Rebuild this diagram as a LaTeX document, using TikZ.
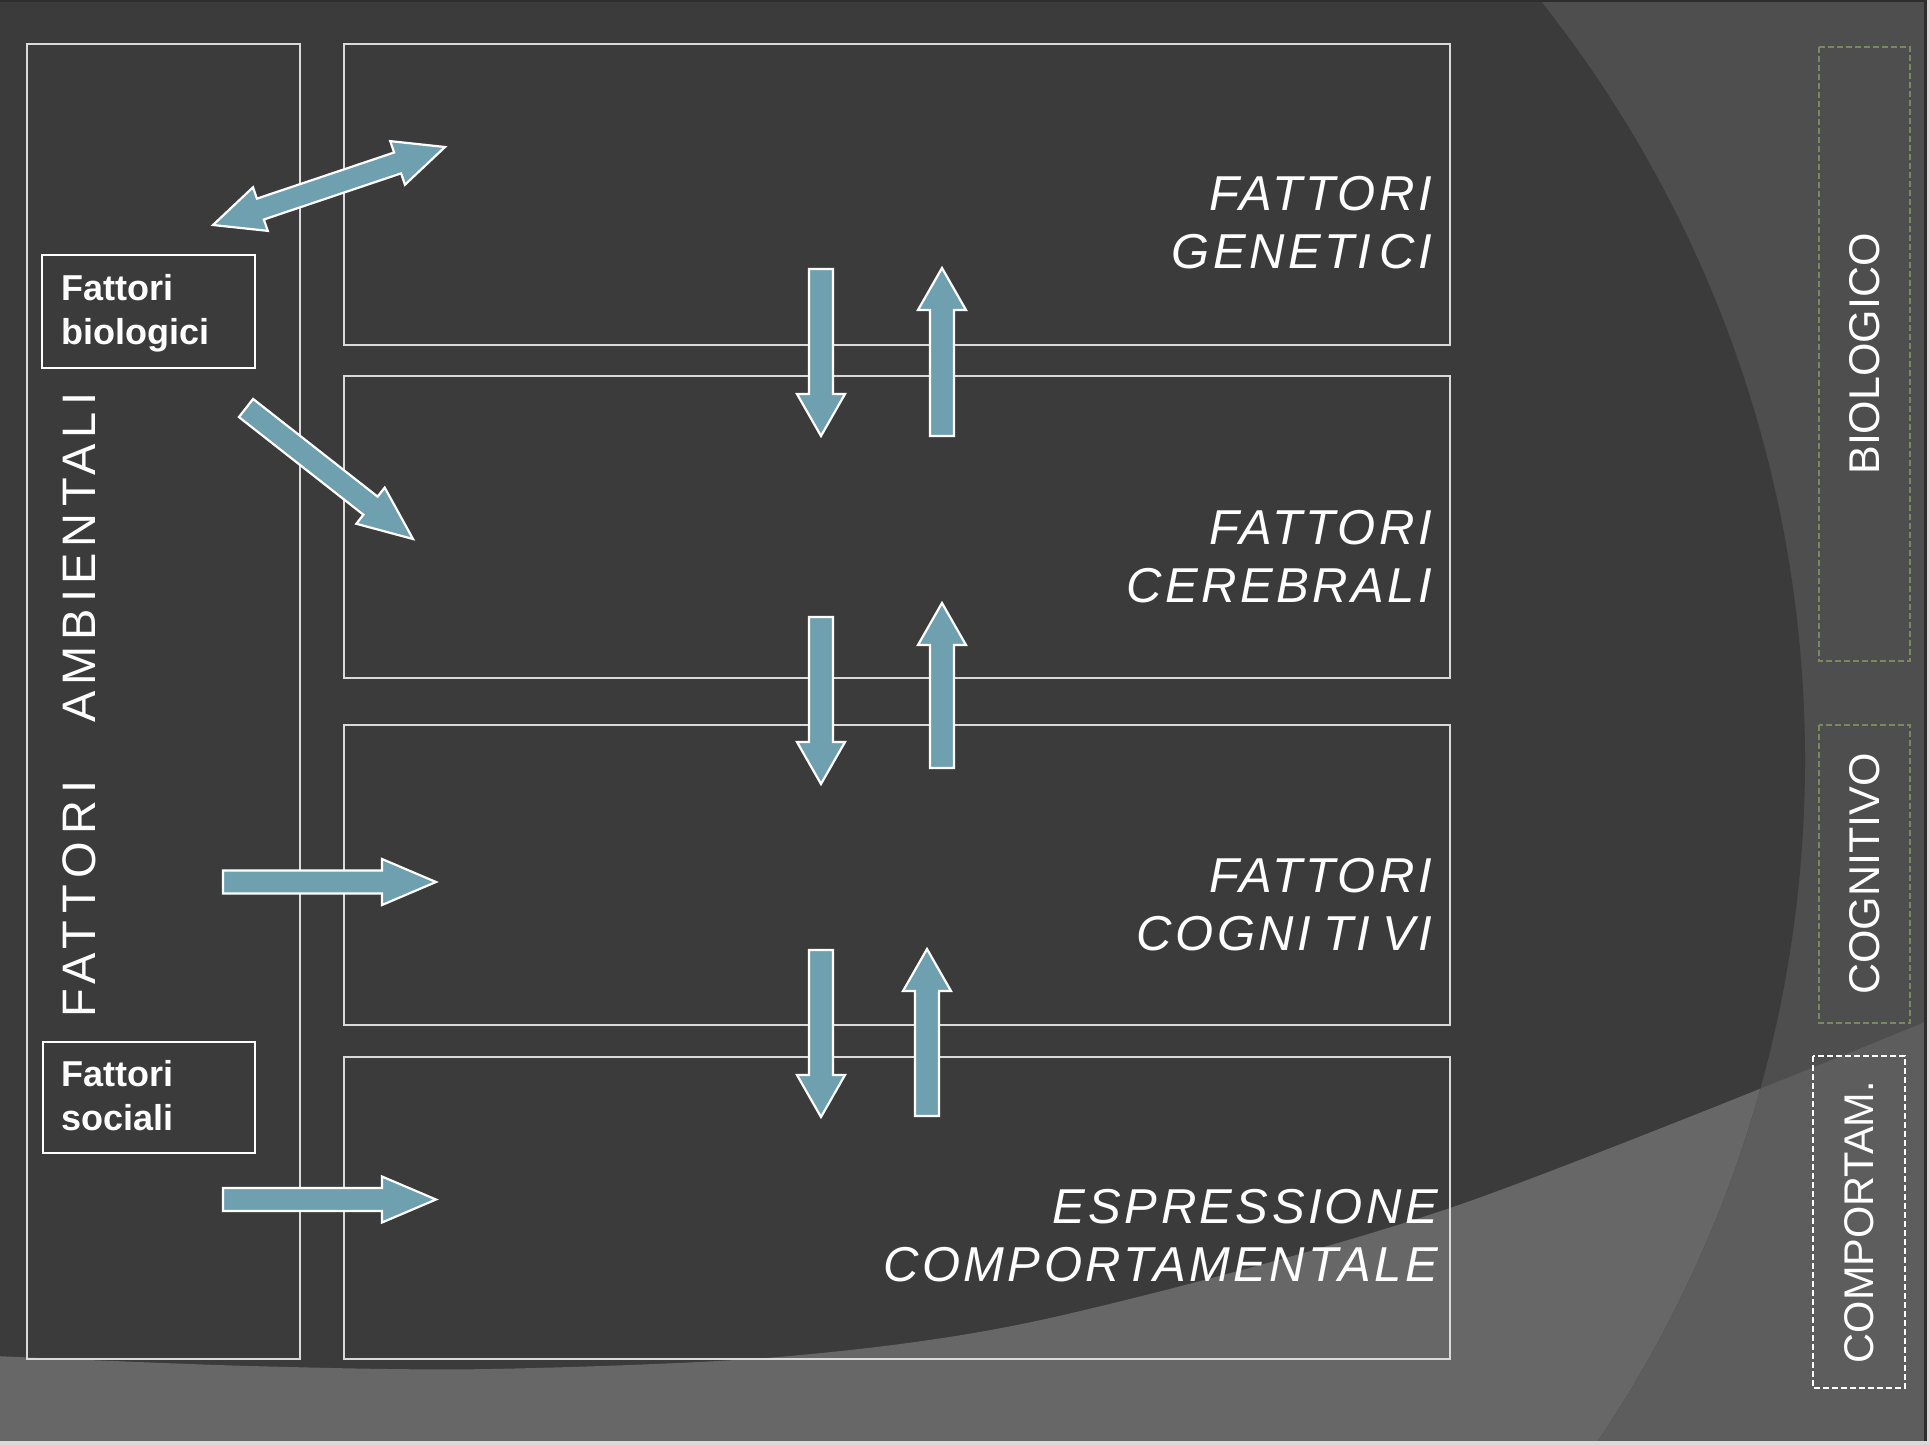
\documentclass[tikz,border=0pt]{standalone}
\usepackage{fontspec}
\setmainfont{Liberation Sans}
\newfontfamily\labfont[LetterSpace=7]{Liberation Sans}
\newfontfamily\ambfont{Liberation Sans}
\usetikzlibrary{calc}

\definecolor{bgout}{HTML}{4E4E4E}
\definecolor{bgdark}{HTML}{3B3B3B}
\definecolor{bandin}{HTML}{676767}
\definecolor{bandout}{HTML}{5D5D5D}
\definecolor{arrowfill}{HTML}{6EA0B0}
\definecolor{boxline}{HTML}{DADADA}
\definecolor{dashgreen}{HTML}{7A8A5E}

\newcommand{\gapI}[1][8pt]{I\kern#1}

\tikzset{
  box/.style={draw=boxline, line width=2pt, anchor=north west, inner sep=0pt},
  smallbox/.style={draw=white, line width=2.2pt, anchor=north west, inner sep=0pt},
  blockarr/.style={fill=arrowfill, draw=white, line width=2.2pt, line join=miter},
  rlabel/.style={text=white, anchor=north east, align=right, inner sep=0pt,
    font=\labfont\itshape\fontsize{49}{58.5}\selectfont},
  blabel/.style={text=white, anchor=north west, align=left, inner sep=0pt,
    font=\bfseries\fontsize{36}{44}\selectfont},
  sidebox/.style={draw=dashgreen, line width=2pt, dash pattern=on 6pt off 3pt,
    rotate=90, text=white, inner sep=0pt, font=\fontsize{43}{50}\selectfont},
}

% single block arrow: from, to, shaft half width, head half width, head length
\newcommand{\blockarrow}[5]{%
  \coordinate (hb) at ($(#2)!#5!(#1)$);
  \filldraw[blockarr] ($(#1)!#3!90:(#2)$) -- ($(hb)!#3!90:(#2)$) -- ($(hb)!#4!90:(#2)$)
    -- (#2) -- ($(hb)!#4!-90:(#2)$) -- ($(hb)!#3!-90:(#2)$) -- ($(#1)!#3!-90:(#2)$) -- cycle;}
% double block arrow
\newcommand{\dblarrow}[5]{%
  \coordinate (ha) at ($(#1)!#5!(#2)$);
  \coordinate (hb) at ($(#2)!#5!(#1)$);
  \filldraw[blockarr] (#1) -- ($(ha)!#4!90:(#2)$) -- ($(ha)!#3!90:(#2)$) -- ($(hb)!#3!90:(#2)$)
    -- ($(hb)!#4!90:(#2)$) -- (#2) -- ($(hb)!#4!-90:(#2)$) -- ($(hb)!#3!-90:(#2)$)
    -- ($(ha)!#3!-90:(#2)$) -- ($(ha)!#4!-90:(#2)$) -- cycle;}

\newcommand{\bandpath}{plot[smooth] coordinates {(-5,1356) (250,1366) (490,1369) (790,1356) (1050,1318) (1450,1208) (1935,1018)} -- (1935,1450) -- (-5,1450) -- cycle}

\begin{document}
\begin{tikzpicture}[x=1pt, y=-1pt]
\useasboundingbox (0,0) rectangle (1930,1445);
% background
\fill[bgout] (0,0) rectangle (1930,1445);
\fill[bandout] \bandpath;
\fill[bgdark] (583,760) circle (1222);
\begin{scope}
  \clip (583,760) circle (1222);
  \fill[bandin] \bandpath;
\end{scope}
\fill[black!82] (0,0) rectangle (1930,2);
\fill[black!82] (1924,0) rectangle (1927,1445);
\fill[black!15] (1927,0) rectangle (1930,1445);
\fill[black!15] (0,1441) rectangle (1930,1445);

% main boxes
\node[box, minimum width=273pt, minimum height=1315pt] (amb) at (26,43) {};
\node[box, minimum width=1106pt, minimum height=301pt] (gen) at (343,43) {};
\node[box, minimum width=1106pt, minimum height=302pt] (cer) at (343,375) {};
\node[box, minimum width=1106pt, minimum height=300pt] (cog) at (343,724) {};
\node[box, minimum width=1106pt, minimum height=302pt] (esp) at (343,1056) {};

% small boxes
\node[smallbox, minimum width=213pt, minimum height=113pt] (bio) at (41,254) {};
\node[smallbox, minimum width=212pt, minimum height=111pt] (soc) at (42,1041) {};
\node[blabel] (biot) at (61,274) {Fattori\\biologici};
\node[blabel] (soct) at (61,1060) {Fattori\\sociali};

% left vertical label
\node[text=white, rotate=90, inner sep=0pt, font=\ambfont\fontsize{47}{50}\selectfont]
  (ambt) at (79,705) {{\addfontfeatures{LetterSpace=15}FATTORI}\hspace{58pt}{\addfontfeatures{LetterSpace=13}AMB\gapI[5pt]ENTALI}};

% right labels
\node[rlabel] (gent) at (1432,176) {FATTORI\\GENET\gapI CI};
\node[rlabel] (cert) at (1432,510) {FATTORI\\CEREBRALI};
\node[rlabel] (cogt) at (1432,858) {FATTORI\\COGN\gapI[12pt]T\gapI[12pt]VI};
\node[rlabel] (espt) at (1438,1189) {ESPRESS\gapI[3pt]ONE\\COMPORTAMENTALE};

% side dashed boxes
\node[sidebox, minimum width=614pt, minimum height=91pt] (sbio) at (1864.5,354) {BIOLOGICO};
\node[sidebox, minimum width=298pt, minimum height=91pt] (scog) at (1864.5,874) {COGNITIVO};
\node[sidebox, draw=white, minimum width=332pt, minimum height=92pt,
  font=\fontsize{41.5}{50}\selectfont] (scomp) at (1859,1222) {COMPORTAM.};

% arrow end coordinates
\coordinate (d1a) at (213,225); \coordinate (d1b) at (445,147);
\coordinate (d2a) at (246,408); \coordinate (d2b) at (413,539);
\coordinate (h1a) at (223,882); \coordinate (h1b) at (436,882);
\coordinate (h2a) at (223,1199.5); \coordinate (h2b) at (436,1199.5);
\coordinate (v1a) at (821,269); \coordinate (v1b) at (821,436);
\coordinate (u1a) at (942,436); \coordinate (u1b) at (942,268);
\coordinate (v2a) at (821,617); \coordinate (v2b) at (821,784);
\coordinate (u2a) at (942,768); \coordinate (u2b) at (942,603);
\coordinate (v3a) at (821,950); \coordinate (v3b) at (821,1117);
\coordinate (u3a) at (927,1116); \coordinate (u3b) at (927,949);

% arrows
\dblarrow{d1a}{d1b}{11pt}{23pt}{50pt}
\blockarrow{d2a}{d2b}{11.5pt}{23pt}{54pt}
\blockarrow{h1a}{h1b}{11.5pt}{23pt}{54pt}
\blockarrow{h2a}{h2b}{11.5pt}{23pt}{54pt}
\blockarrow{v1a}{v1b}{12pt}{24pt}{42pt}
\blockarrow{u1a}{u1b}{12pt}{24pt}{42pt}
\blockarrow{v2a}{v2b}{12pt}{24pt}{42pt}
\blockarrow{u2a}{u2b}{12pt}{24pt}{42pt}
\blockarrow{v3a}{v3b}{12pt}{24pt}{42pt}
\blockarrow{u3a}{u3b}{12pt}{24pt}{42pt}
\end{tikzpicture}
\end{document}
